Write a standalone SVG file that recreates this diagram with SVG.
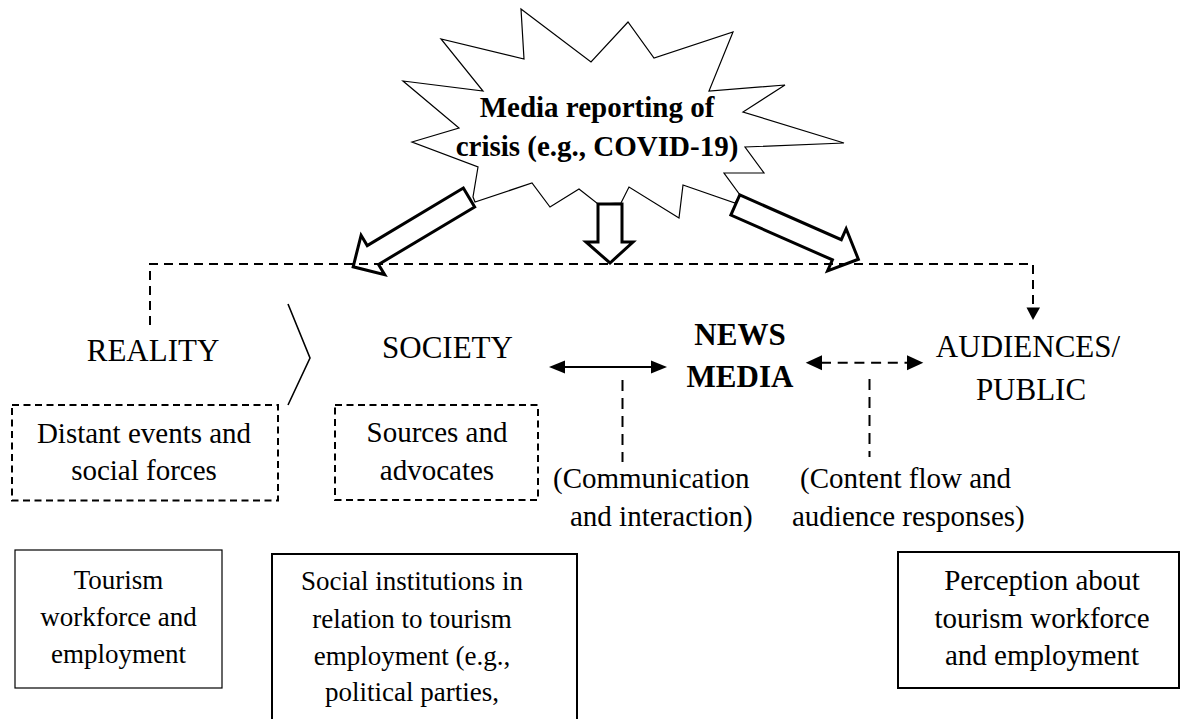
<svg xmlns="http://www.w3.org/2000/svg" width="1181" height="719" viewBox="0 0 1181 719">
  <style>
    .t { font-family: "Liberation Serif", "Times New Roman", serif; fill: #000; text-anchor: middle; }
    .h { font-size: 31px; }
    .s { font-size: 29px; }
    .m { font-size: 27px; }
    .b { font-weight: bold; }
    .ls { text-anchor: start; }
    .burst { fill: #fff; stroke: #000; stroke-width: 1.2; stroke-linejoin: miter; }
    .block { fill: #fff; stroke: #000; stroke-width: 3; stroke-linejoin: miter; }
    .dash { fill: none; stroke: #000; stroke-width: 2; stroke-dasharray: 9 6; }
    .dashbox { fill: none; stroke: #000; stroke-width: 2; stroke-dasharray: 7 4.5; }
    .vdash { fill: none; stroke: #000; stroke-width: 2; stroke-dasharray: 11 7; }
    .solid { fill: none; stroke: #000; stroke-width: 2; }
    .head { fill: #000; stroke: none; }
    .box { fill: #fff; stroke: #000; }
  </style>

  <!-- crisis starburst -->
  <g id="crisis">
    <polygon class="burst" points="521,9 591,62 628,22 654,58 733,32 709,91 785,85 743,112 844,143 745,147 764,173 724,173 740,195 735,203 683,185 679,218 629,187 621,203 598,204 579,189 550,207 532,183 475,202 473,197 478,167 412,142 459,128 403,81 483,91 441,39 524,59"/>
    <text class="t b" style="font-size:29px" x="597" y="117">Media reporting of</text>
    <text class="t b" style="font-size:29px" x="597" y="156">crisis (e.g., COVID-19)</text>
  </g>

  <!-- connectors -->
  <g id="connectors">
    <!-- block arrows from the crisis -->
    <polygon class="block" transform="translate(469,197.5) rotate(149.1)" points="0,-11 112,-11 112,-23 135,0 112,23 112,11 0,11"/>
    <polygon class="block" points="598,204 622,204 622,242 633,242 610,263 586,242 598,242"/>
    <polygon class="block" transform="translate(735.3,205) rotate(23.8)" points="0,-11 111,-11 111,-23 134.5,0 111,23 111,11 0,11"/>

    <!-- dashed distribution line -->
    <path class="dash" d="M150,325 V264 H1033 V308"/>
    <polygon class="head" points="1026.5,307.5 1040,307.5 1033,320"/>

    <!-- chevron between reality and society -->
    <polyline class="solid" style="stroke-width:1.6" points="288,304 310,358 288,405"/>

    <!-- society <-> news media -->
    <line class="solid" x1="560" y1="367" x2="656" y2="367"/>
    <polygon class="head" points="549,367 565,360.5 565,373.5"/>
    <polygon class="head" points="667,367 651,360.5 651,373.5"/>
    <line class="vdash" x1="622.5" y1="380" x2="622.5" y2="462"/>

    <!-- news media <-> audiences -->
    <line class="solid" style="stroke-dasharray:10 6.7" x1="821" y1="362.7" x2="907" y2="362.7"/>
    <polygon class="head" points="805.7,362.7 822,355.2 822,370.2"/>
    <polygon class="head" points="923.3,362.7 907,355.2 907,370.2"/>
    <line class="vdash" x1="869.5" y1="379" x2="869.5" y2="457"/>
  </g>

  <g id="reality">
    <text class="t h" x="153" y="361">REALITY</text>
  </g>

  <g id="society">
    <text class="t h" x="447.5" y="358">SOCIETY</text>
  </g>

  <g id="news-media">
    <text class="t h b" x="740" y="345">NEWS</text>
    <text class="t h b" x="740" y="387">MEDIA</text>
  </g>

  <g id="audiences">
    <text class="t h" x="1028" y="357">AUDIENCES/</text>
    <text class="t h" x="1031" y="400">PUBLIC</text>
  </g>

  <g id="distant-events">
    <rect class="dashbox" x="12" y="405" width="266" height="95.5"/>
    <text class="t s" x="144" y="443">Distant events and</text>
    <text class="t s" x="144" y="480">social forces</text>
  </g>

  <g id="sources">
    <rect class="dashbox" x="335" y="405" width="203" height="95"/>
    <text class="t s" x="437" y="442">Sources and</text>
    <text class="t s" x="437" y="480">advocates</text>
  </g>

  <g id="communication">
    <text class="t s ls" x="553" y="488">(Communication</text>
    <text class="t s ls" x="570" y="526">and interaction)</text>
  </g>

  <g id="content-flow">
    <text class="t s ls" x="800" y="488">(Content flow and</text>
    <text class="t s ls" x="792" y="526">audience responses)</text>
  </g>

  <g id="tourism-workforce">
    <rect class="box" style="stroke-width:1.2" x="15" y="550" width="207" height="138"/>
    <text class="t m" x="118.5" y="589">Tourism</text>
    <text class="t m" x="118.5" y="626">workforce and</text>
    <text class="t m" x="118.5" y="663">employment</text>
  </g>

  <g id="social-institutions">
    <rect class="box" style="stroke-width:2" x="272" y="554" width="305" height="180"/>
    <text class="t m" x="412" y="590">Social institutions in</text>
    <text class="t m" x="412" y="628">relation to tourism</text>
    <text class="t m" x="412" y="665">employment (e.g.,</text>
    <text class="t m" x="412" y="701">political parties,</text>
  </g>

  <g id="perception">
    <rect class="box" style="stroke-width:2" x="898" y="552" width="281" height="136"/>
    <text class="t s" x="1042" y="590">Perception about</text>
    <text class="t s" x="1042" y="628">tourism workforce</text>
    <text class="t s" x="1042" y="665">and employment</text>
  </g>
</svg>
